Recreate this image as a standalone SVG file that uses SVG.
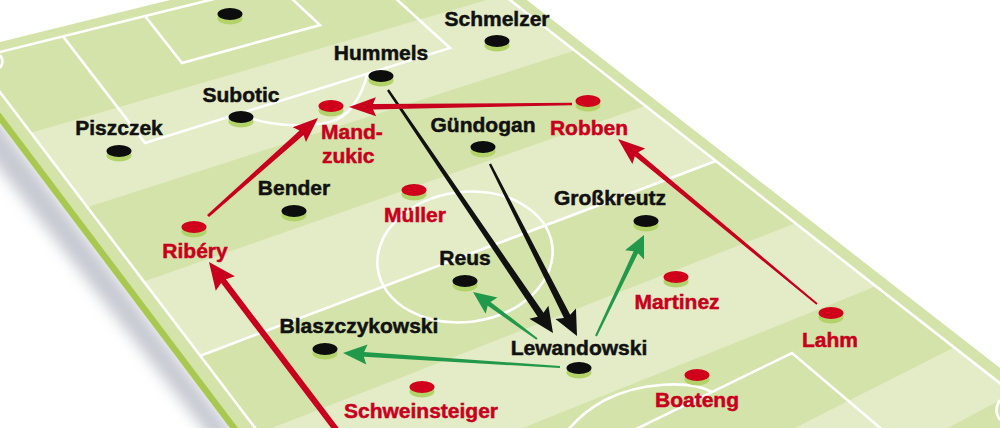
<svg xmlns="http://www.w3.org/2000/svg" width="1000" height="428" viewBox="0 0 1000 428">
<defs>
<style>
.lbl{font-family:"Liberation Sans",Arial,sans-serif;font-weight:bold;font-size:21px;text-anchor:middle;stroke-width:0.5}
.lft{text-anchor:start}
.blk{fill:#111;stroke:#111}
.red{fill:#c8001e;stroke:#c8001e}
.wl{fill:none;stroke:#fff;stroke-width:2.6}
.base{fill:#b3d36a}
.mb{fill:#0d0d0d}
.mr{fill:#d0021b}
.light{fill:#e3ecc6}
.ak{fill:#111}
.ar{fill:#c8001e}
.ag{fill:#22994a}
</style>
<clipPath id="pitchClip"><polygon points="-25.6,58.3 240,-7.4 500.5,-7.4 1010,391 1010,440 264.4,440"/></clipPath>
<filter id="soft" x="-50%" y="-50%" width="200%" height="200%"><feGaussianBlur stdDeviation="7"/></filter>
</defs>
<rect width="1000" height="428" fill="#fff"/>
<g id="pitch">
<polygon points="-60,43.4 239,440 212,440 -82,65" fill="#b4b8c2" opacity="0.75" filter="url(#soft)"/>
<polygon points="-60,43.4 239,440 262,440 -40,30" fill="#a8c850"/>
<polygon points="-44.7,53 210,-9.9 514,-10 1010,375.7 1010,440 247,440" fill="#d4e3aa"/>
<g clip-path="url(#pitchClip)">
<polygon class="light" points="-100,170.8 1100,-178.4 1100,-118.5 -100,267.4"/>
<polygon class="light" points="-100,367 1100,-53.5 1100,15.8 -100,469.2"/>
<polygon class="light" points="-100,573.4 1100,104.2 1100,196.4 -100,677.6"/>
<polygon class="light" points="-100,879.8 1100,273.8 1100,347.3 -100,983"/>
</g>
<g id="lines">
<line class="wl" x1="-30" y1="59.4" x2="220" y2="-2.5"/>
<line class="wl" x1="-26" y1="58" x2="262" y2="437"/>
<line class="wl" x1="505" y1="-3.9" x2="1015" y2="395"/>
<line class="wl" x1="200.4" y1="355.7" x2="715.8" y2="161"/>
<ellipse class="wl" cx="465" cy="257" rx="88" ry="65" transform="rotate(-7.5 465 257)"/>
<polyline class="wl" points="63,36.4 145,143 450,48 393,-4"/>
<polyline class="wl" points="145,16 182,63 320,25 290,-3"/>
<path class="wl" d="M240,114 C265,126 305,128 330,122 C350,117 362,95 367,75"/>
<polyline class="wl" points="630,432 792,353 885,432"/>
<path class="wl" d="M712,392 C690,380 640,382 605,400 C590,408 578,418 568,430"/>
<path class="wl" d="M0,55 Q5,61 0,68"/>
<path class="wl" d="M1000,400 Q993,410 1000,420"/>
</g>
</g>
<g id="connectors">
<polygon class="ak" points="387.01,90.68 537.72,316.79 529.42,318.82 553,333 548.42,305.86 543.5,312.85 388.99,89.32"/>
<polygon class="ak" points="488.93,164.54 563.95,317.94 555.45,318.88 577,336 575.97,308.5 570.19,314.78 491.07,163.46"/>
<polygon class="ar" points="571.98,102.8 372.96,103.88 375.87,97.14 349,107 376.13,116.14 373.04,109.48 572.02,105.2"/>
<polygon class="ar" points="817.64,303.23 638.14,152.32 645.16,148.53 618,139 632.4,163.93 634.82,156.32 816.36,304.77"/>
<polygon class="ar" points="209,217.12 303.57,134.88 305.98,142.1 318,118 292.68,127.16 299.57,130.4 207,214.88"/>
<polygon class="ar" points="340.39,430.19 225.9,279.31 234.88,276.26 209,262 215.76,290.76 221.12,282.93 335.61,433.81"/>
<polygon class="ag" points="537.59,338.19 490.54,301.91 497.46,297.56 473,292 485.62,313.68 487.7,305.77 536.41,339.81"/>
<polygon class="ag" points="596.9,336.43 638.01,253.19 644.05,259.38 644,235 625.07,250.36 633.67,251.13 595.1,335.57"/>
<polygon class="ag" points="560.06,366 364.11,351.96 367.59,344.57 343,353 366.31,364.53 363.81,356.74 559.94,368"/>
</g>
<g id="goalkeeper"><ellipse class="base" cx="230" cy="18.5" rx="12.5" ry="6"/><ellipse class="mb" cx="230" cy="14" rx="12.5" ry="6"/></g>
<g id="schmelzer"><ellipse class="base" cx="497" cy="45.5" rx="12.5" ry="6"/><ellipse class="mb" cx="497" cy="41" rx="12.5" ry="6"/><text class="lbl blk" x="497" y="26">Schmelzer</text></g>
<g id="hummels"><ellipse class="base" cx="381" cy="80.5" rx="12.5" ry="6"/><ellipse class="mb" cx="381" cy="76" rx="12.5" ry="6"/><text class="lbl blk" x="381" y="60">Hummels</text></g>
<g id="subotic"><ellipse class="base" cx="241" cy="121.5" rx="12.5" ry="6"/><ellipse class="mb" cx="241" cy="117" rx="12.5" ry="6"/><text class="lbl blk" x="241" y="102">Subotic</text></g>
<g id="piszczek"><ellipse class="base" cx="119" cy="155.5" rx="12.5" ry="6"/><ellipse class="mb" cx="119" cy="151" rx="12.5" ry="6"/><text class="lbl blk" x="119" y="135">Piszczek</text></g>
<g id="bender"><ellipse class="base" cx="294" cy="215.5" rx="12.5" ry="6"/><ellipse class="mb" cx="294" cy="211" rx="12.5" ry="6"/><text class="lbl blk" x="294" y="195">Bender</text></g>
<g id="guendogan"><ellipse class="base" cx="483" cy="151.5" rx="12.5" ry="6"/><ellipse class="mb" cx="483" cy="147" rx="12.5" ry="6"/><text class="lbl blk" x="483" y="132">Gündogan</text></g>
<g id="grosskreutz"><ellipse class="base" cx="646" cy="225.5" rx="12.5" ry="6"/><ellipse class="mb" cx="646" cy="221" rx="12.5" ry="6"/><text class="lbl blk" x="610" y="205">Großkreutz</text></g>
<g id="reus"><ellipse class="base" cx="465" cy="285.5" rx="12.5" ry="6"/><ellipse class="mb" cx="465" cy="281" rx="12.5" ry="6"/><text class="lbl blk" x="465" y="265">Reus</text></g>
<g id="blaszczykowski"><ellipse class="base" cx="325" cy="353.5" rx="12.5" ry="6"/><ellipse class="mb" cx="325" cy="349" rx="12.5" ry="6"/><text class="lbl blk" x="359" y="333">Blaszczykowski</text></g>
<g id="lewandowski"><ellipse class="base" cx="579" cy="372.5" rx="12.5" ry="6"/><ellipse class="mb" cx="579" cy="368" rx="12.5" ry="6"/><text class="lbl blk" x="579" y="355">Lewandowski</text></g>
<g id="mandzukic"><ellipse class="base" cx="331" cy="110.5" rx="12.5" ry="6"/><ellipse class="mr" cx="331" cy="106" rx="12.5" ry="6"/><text class="lbl red lft" x="321" y="139">Mand-</text><text class="lbl red lft" x="322" y="163">zukic</text></g>
<g id="robben"><ellipse class="base" cx="588" cy="105.5" rx="12.5" ry="6"/><ellipse class="mr" cx="588" cy="101" rx="12.5" ry="6"/><text class="lbl red" x="589" y="135">Robben</text></g>
<g id="mueller"><ellipse class="base" cx="414" cy="194.5" rx="12.5" ry="6"/><ellipse class="mr" cx="414" cy="190" rx="12.5" ry="6"/><text class="lbl red" x="415" y="222">Müller</text></g>
<g id="ribery"><ellipse class="base" cx="194" cy="231.5" rx="12.5" ry="6"/><ellipse class="mr" cx="194" cy="227" rx="12.5" ry="6"/><text class="lbl red" x="195" y="258">Ribéry</text></g>
<g id="martinez"><ellipse class="base" cx="676" cy="281.5" rx="12.5" ry="6"/><ellipse class="mr" cx="676" cy="277" rx="12.5" ry="6"/><text class="lbl red" x="677" y="309">Martinez</text></g>
<g id="lahm"><ellipse class="base" cx="831" cy="317.5" rx="12.5" ry="6"/><ellipse class="mr" cx="831" cy="313" rx="12.5" ry="6"/><text class="lbl red" x="830" y="347">Lahm</text></g>
<g id="boateng"><ellipse class="base" cx="697" cy="379.5" rx="12.5" ry="6"/><ellipse class="mr" cx="697" cy="375" rx="12.5" ry="6"/><text class="lbl red" x="697" y="407">Boateng</text></g>
<g id="schweinsteiger"><ellipse class="base" cx="422" cy="391.5" rx="12.5" ry="6"/><ellipse class="mr" cx="422" cy="387" rx="12.5" ry="6"/><text class="lbl red" x="421" y="418">Schweinsteiger</text></g>
</svg>
